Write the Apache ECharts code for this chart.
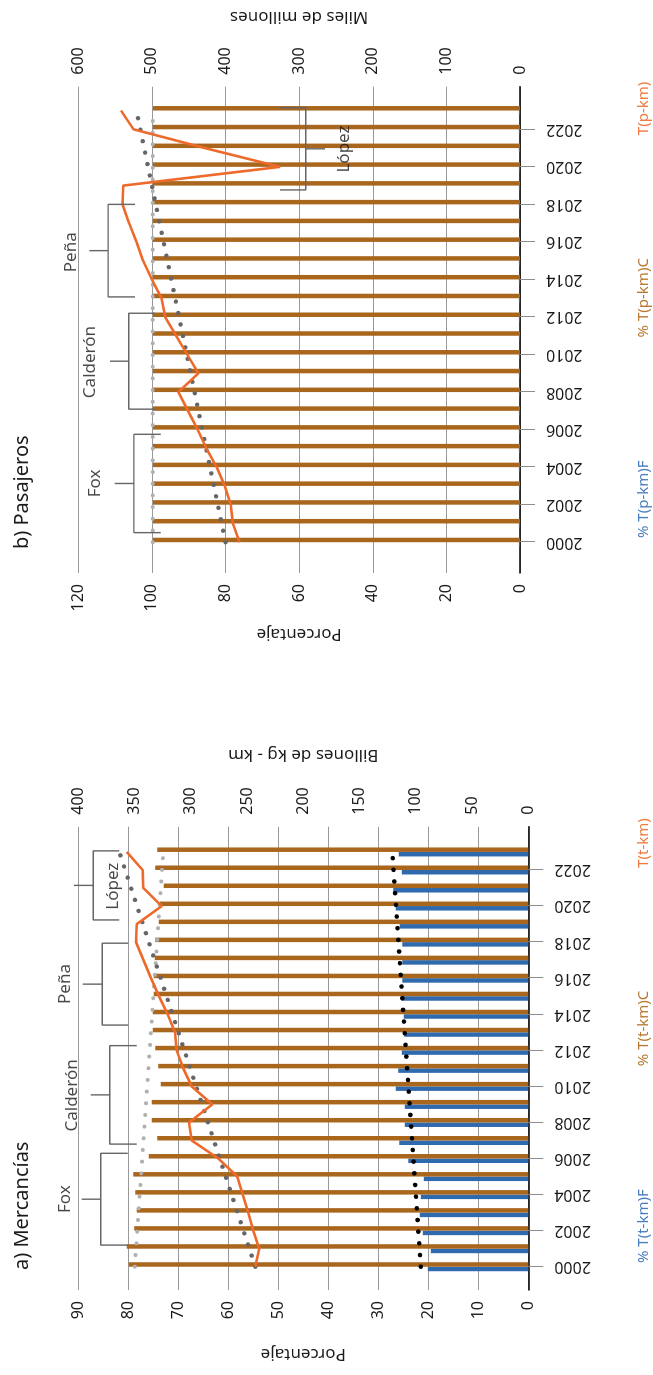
<!DOCTYPE html>
<html><head><meta charset="utf-8">
<script src="https://cdn.jsdelivr.net/npm/echarts@6/dist/echarts.min.js"></script>
<style>
html,body{margin:0;padding:0;background:#fff;width:653px;height:1375px;overflow:hidden;}
.panel{position:absolute;left:0;height:653px;transform-origin:0 0;}
#pb{top:0;width:680px;transform:translate(0,680px) rotate(-90deg);}
#pa{top:690px;width:685px;transform:translate(0,685px) rotate(-90deg);}
</style></head><body>
<div id="pb" class="panel"></div>
<div id="pa" class="panel"></div>
<script>
// ---------- shared ----------
const years = [2000,2001,2002,2003,2004,2005,2006,2007,2008,2009,2010,2011,2012,2013,2014,2015,2016,2017,2018,2019,2020,2021,2022,2023];
const yearTicks = [2000,2002,2004,2006,2008,2010,2012,2014,2016,2018,2020,2022];
const trendYears = [2000, 2023];
const presidents = ['Fox','Calderón','Peña','López'];

// ---------- a) Mercancías ----------
const tkPctF = [20.1,19.5,21.1,21.7,21.5,20.9,24.0,25.8,24.7,24.7,26.5,26.0,25.3,24.8,24.9,25.3,25.2,25.2,25.2,25.7,26.5,27.0,25.3,25.9];
const tkPctC = [79.9,80.3,78.8,78.3,78.6,79.0,75.9,74.2,75.3,75.3,73.5,74.0,74.6,75.1,75.1,74.9,74.9,74.7,74.6,73.9,73.7,72.9,74.6,74.2];
const tkTotal = [242.7,239.1,244.4,248.9,253.9,258.7,275.5,299.2,301.6,280.9,299.2,306.7,312.6,314.0,320.6,328.3,335.4,342.0,348.7,348.0,325.9,342.2,342.8,357.0];
const tkTrendTotal = [242.7, 363.6];
const tkTrendC = [78.7, 73.0];
const tkTrendF = [21.5, 27.2];
const tkTermStart = [2001.2, 2006.8, 2013.4, 2019.23];
const tkTermEnd = [2006.29, 2012.26, 2017.94, 2023.06];
const tkBracketLevel = [85.5, 83.7, 85.2, 87.0];
const tkBracketTip = [80.1, 78.3, 80.0, 81.8];
const tkBracketStub = [89.3, 87.5, 89.1, 90.9];
const tkLabelYear = [2003.75, 2009.5, 2015.68, 2021.1];
const tkLabelValue = [92.6, 91.3, 92.6, 83.1];
const tkLeftTicks = {min: 0, max: 90, interval: 10};
const tkRightTicks = {min: 0, max: 400, interval: 50};

// ---------- b) Pasajeros ----------
const pkPctF = [0.3,0.3,0.3,0.3,0.3,0.3,0.3,0.3,0.3,0.3,0.3,0.3,0.3,0.3,0.3,0.3,0.3,0.3,0.3,0.3,0.3,0.3,0.3,0.3];
const pkPctC = [99.7,99.7,99.7,99.7,99.7,99.7,99.7,99.7,99.7,99.7,99.7,99.7,99.7,99.7,99.7,99.7,99.7,99.7,99.7,99.7,99.7,99.7,99.7,99.7];
const pkTotal = [381,390,393,401,412,426,438,451,464,437,452,467,482,487,500,512,521,531,540,539,326,428,525,542];
const pkTrendTotal = [400, 521];
const pkTrendC = [99.8, 99.8];
const pkTermStart = [2000.51, 2007.09, 2013.07, 2018.77];
const pkTermEnd = [2005.75, 2012.2, 2018.0, 2023.15];
const pkBracketLevel = [104.9, 106.3, 111.9, 58.2];
const pkBracketTip = [97.6, 99.2, 104.6, 65.2];
const pkBracketStub = [110.1, 111.4, 117.0, 53.0];
const pkLabelYear = [2003.13, 2009.6, 2015.45, 2020.95];
const pkLabelValue = [115.4, 116.8, 122.0, 47.9];
const pkLeftTicks = {min: 0, max: 120, interval: 20};
const pkRightTicks = {min: 0, max: 600, interval: 100};

// ---------- styling ----------
const FONT = 'Noto Sans';
const TXT = '#1a1a1a';
const C_BLUE = '#2F69AE';
const C_BROWN = '#A9661D';
const C_ORANGE = '#EE6A2B';
const L_BLUE = '#4A7DC0', L_BROWN = '#B8782E', L_ORANGE = '#EE7A3E';

function pairs(xs, ys){ return xs.map((x,i)=>[x, ys[i]]); }

function buildOption(cfg){
  const series = [];
  series.push({
    name: cfg.nameF, type: 'bar', yAxisIndex: 0, barWidth: 4.5, barGap: '0%',
    data: pairs(years, cfg.pctF),
    itemStyle: {color: C_BLUE}, silent: true
  });
  series.push({
    name: cfg.nameC, type: 'bar', yAxisIndex: 0, barWidth: 4.5, barGap: '0%',
    data: pairs(years, cfg.pctC),
    itemStyle: {color: C_BROWN}, silent: true
  });
  const dots = (color, w) => ({color: color, width: w, type: [0.1, 11.6], cap: 'round'});
  series.push({
    name: 'trendC', type: 'line', yAxisIndex: 0, symbol: 'none', silent: true,
    data: pairs(trendYears, cfg.trendC), lineStyle: dots('#b0b0b0', 4), z: 3
  });
  if (cfg.trendF) series.push({
    name: 'trendF', type: 'line', yAxisIndex: 0, symbol: 'none', silent: true,
    data: pairs(trendYears, cfg.trendF), lineStyle: dots('#000000', 4.6), z: 3
  });
  series.push({
    name: 'trendT', type: 'line', yAxisIndex: 1, symbol: 'none', silent: true,
    data: pairs(trendYears, cfg.trendT), lineStyle: dots('#666666', 4.4), z: 3
  });
  series.push({
    name: cfg.nameT, type: 'line', yAxisIndex: 1, symbol: 'none', silent: true,
    data: pairs(years, cfg.total), lineStyle: {color: C_ORANGE, width: 2.6}, itemStyle: {color: C_ORANGE}, z: 4
  });
  for (let i = 0; i < presidents.length; i++) {
    const s = cfg.termStart[i], e = cfg.termEnd[i];
    const m = (s + e) / 2;
    const ls = {color: '#666666', width: 1.4};
    series.push({
      name: 'br' + i, type: 'line', yAxisIndex: 0, symbol: 'none', silent: true, clip: false, z: 5,
      data: [[s, cfg.tip[i]], [s, cfg.level[i]], [e, cfg.level[i]], [e, cfg.tip[i]]], lineStyle: ls
    });
    series.push({
      name: 'st' + i, type: 'line', yAxisIndex: 0, symbol: 'none', silent: true, clip: false, z: 5,
      data: [[m, cfg.level[i]], [m, cfg.stub[i]]], lineStyle: ls
    });
  }
  series.push({
    name: 'presLabels', type: 'scatter', yAxisIndex: 0, silent: true, clip: false, z: 6,
    symbolSize: 1, itemStyle: {color: 'rgba(0,0,0,0)'},
    data: presidents.map((p, i) => ({name: p, value: [cfg.labelYear[i], cfg.labelValue[i]]})),
    label: {show: true, position: 'inside', formatter: '{b}', color: TXT, fontFamily: FONT, fontSize: 17}
  });

  const yl = (t, pos, name, gap) => ({
    type: 'value', position: pos, min: t.min, max: t.max, interval: t.interval,
    name: name, nameLocation: 'middle', nameRotate: 90, nameGap: gap,
    nameTextStyle: {color: TXT, fontFamily: FONT, fontSize: 17},
    axisLine: {show: false}, axisTick: {show: false},
    axisLabel: {color: TXT, fontFamily: FONT, fontSize: 16, margin: pos === 'left' ? 11 : 12},
    splitLine: {show: pos === 'left', lineStyle: {color: '#999999', width: 1}}
  });

  return {
    animation: false,
    backgroundColor: '#ffffff',
    textStyle: {fontFamily: FONT},
    title: {text: cfg.title, left: cfg.titleLeft, top: 7,
      textStyle: {fontFamily: FONT, fontSize: 20, fontWeight: 'normal', color: TXT}},
    legend: {
      left: cfg.legendLeft, top: 631, icon: 'none', itemWidth: 0, itemHeight: 14, itemGap: 118,
      selectedMode: false,
      textStyle: {fontFamily: FONT, fontSize: 15},
      data: [
        {name: cfg.nameF, textStyle: {color: L_BLUE}},
        {name: cfg.nameC, textStyle: {color: L_BROWN}},
        {name: cfg.nameT, textStyle: {color: L_ORANGE}}
      ]
    },
    grid: cfg.grid,
    xAxis: {
      type: 'value', min: cfg.xMin, max: cfg.xMax,
      axisLine: {show: true, onZero: false, lineStyle: {color: '#000', width: 1.5}},
      axisTick: {show: true, customValues: yearTicks, length: 15, lineStyle: {color: '#8c8c8c'}},
      axisLabel: {customValues: yearTicks, rotate: 90, margin: 26, color: TXT, fontFamily: FONT, fontSize: 16,
        formatter: v => String(v)},
      splitLine: {show: false}
    },
    yAxis: [
      yl(cfg.leftTicks, 'left', 'Porcentaje', cfg.leftGap),
      yl(cfg.rightTicks, 'right', cfg.rightName, cfg.rightGap)
    ],
    series: series
  };
}

const chartB = echarts.init(document.getElementById('pb'), null, {renderer: 'canvas'});
chartB.setOption(buildOption({
  title: 'b) Pasajeros', titleLeft: 126, legendLeft: 132,
  nameF: '% T(p-km)F', nameC: '% T(p-km)C', nameT: 'T(p-km)',
  pctF: pkPctF, pctC: pkPctC, total: pkTotal,
  trendT: pkTrendTotal, trendC: pkTrendC, trendF: null,
  termStart: pkTermStart, termEnd: pkTermEnd, level: pkBracketLevel, tip: pkBracketTip, stub: pkBracketStub,
  labelYear: pkLabelYear, labelValue: pkLabelValue,
  leftTicks: pkLeftTicks, rightTicks: pkRightTicks, rightName: 'Miles de millones',
  leftGap: 52, rightGap: 61,
  grid: {left: 107, right: 86.7, top: 78.3, bottom: 133},
  xMin: 1998.36, xMax: 2024.27
}));

const chartA = echarts.init(document.getElementById('pa'), null, {renderer: 'canvas'});
chartA.setOption(buildOption({
  title: 'a) Mercancías', titleLeft: 100, legendLeft: 102,
  nameF: '% T(t-km)F', nameC: '% T(t-km)C', nameT: 'T(t-km)',
  pctF: tkPctF, pctC: tkPctC, total: tkTotal,
  trendT: tkTrendTotal, trendC: tkTrendC, trendF: tkTrendF,
  termStart: tkTermStart, termEnd: tkTermEnd, level: tkBracketLevel, tip: tkBracketTip, stub: tkBracketStub,
  labelYear: tkLabelYear, labelValue: tkLabelValue,
  leftTicks: tkLeftTicks, rightTicks: tkRightTicks, rightName: 'Billones de kg - km',
  leftGap: 55, rightGap: 63,
  grid: {left: 85, right: 136.7, top: 78.3, bottom: 124.7},
  xMin: 1998.71, xMax: 2024.4
}));
</script>
</body></html>
